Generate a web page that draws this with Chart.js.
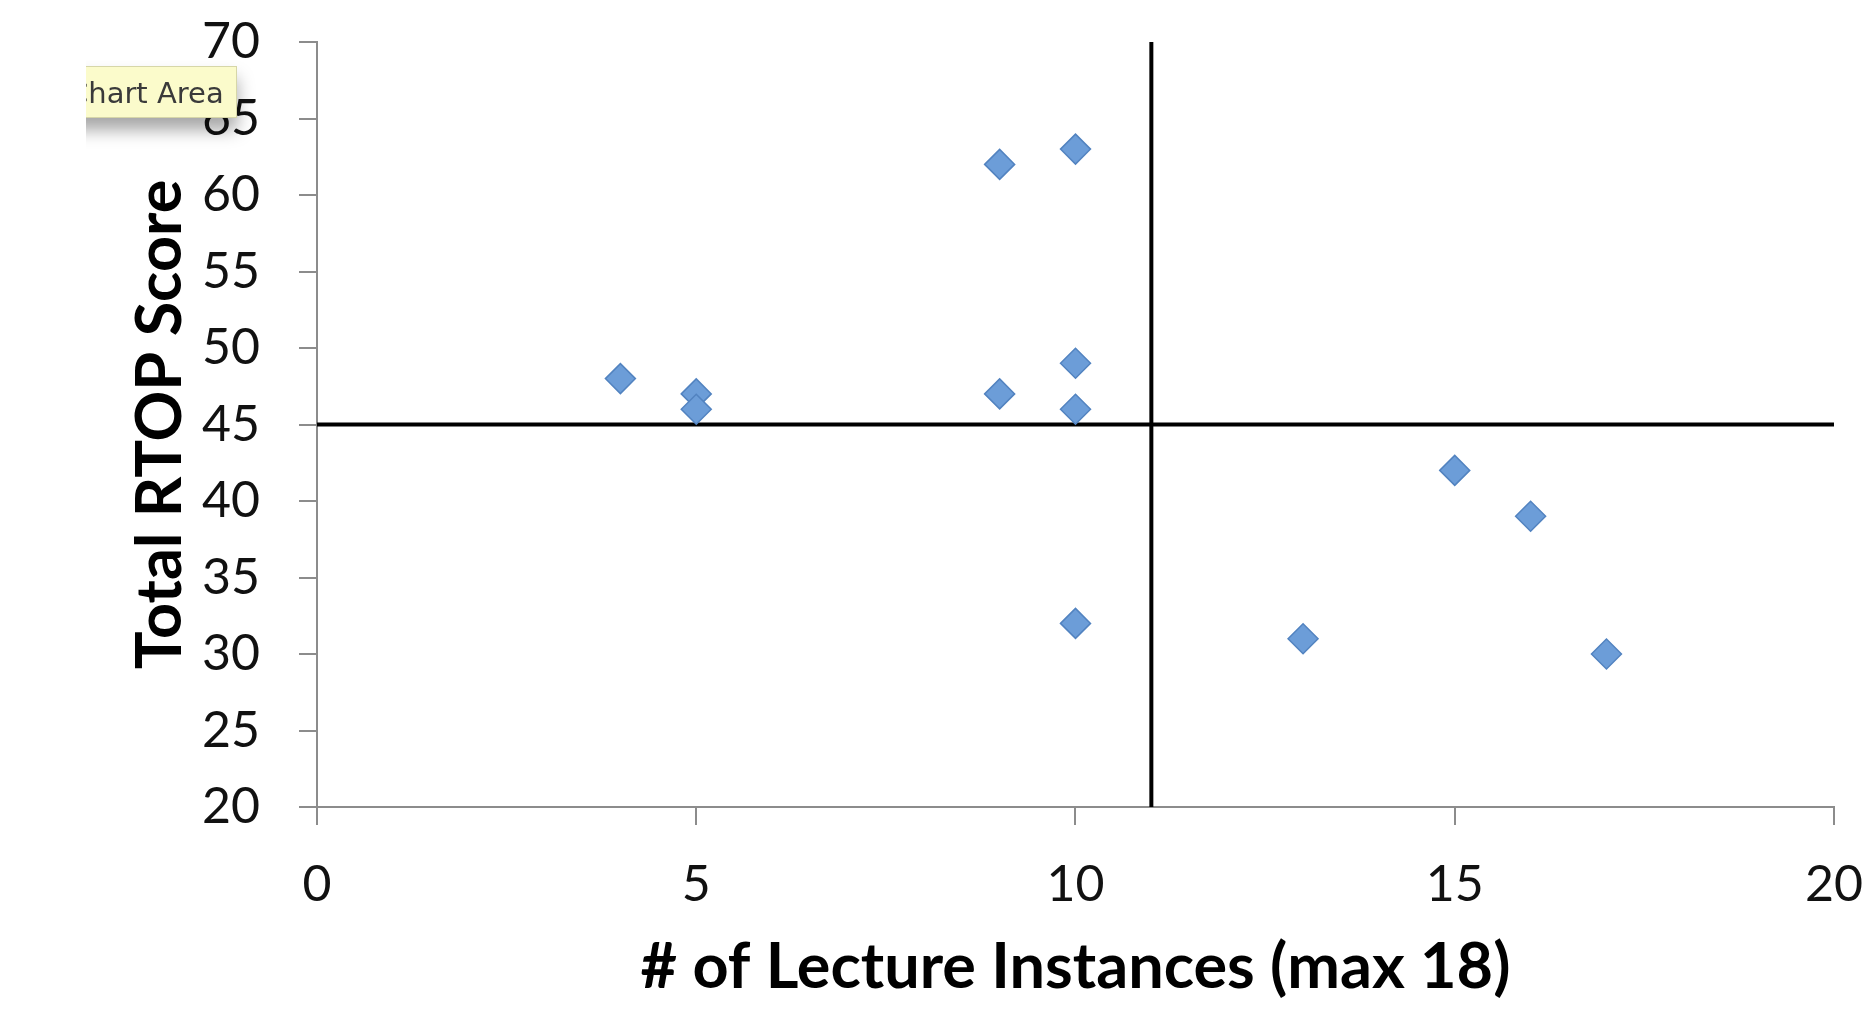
<!DOCTYPE html>
<html>
<head>
<meta charset="utf-8">
<script src="https://cdn.jsdelivr.net/npm/chart.js@4/dist/chart.umd.min.js"></script>
<style>
  html, body { margin: 0; padding: 0; background: #fff; overflow: hidden; }
  #wrap { position: relative; width: 1870px; height: 1011px; overflow: hidden; }
  /* canvas box is a bit bigger than the page so the plot area lands where it should */
  #chartBox { position: absolute; left: 0; top: -27px; width: 1893px; height: 1038px; }
  #tipClip { position: absolute; left: 86px; top: 60px; width: 200px; height: 110px; overflow: hidden; }
  #tip {
    position: absolute; left: -19px; top: 6px; width: 170px; height: 52px;
    background: #fbfbcb; border: 1px solid #d6d6a8; box-sizing: border-box;
    font-family: "DejaVu Sans", sans-serif; font-size: 29px; color: #3a3a3a;
    line-height: 52px; padding-left: 0;
    box-shadow: 0 12px 16px rgba(0,0,0,0.35);
  }
</style>
</head>
<body>
<div id="wrap">
  <div id="chartBox"><canvas id="chart"></canvas></div>
  <div id="tipClip"><div id="tip">Chart Area</div></div>
</div>
<script>
// lecture instances vs RTOP score
const lectureCounts = [4, 5, 5, 9, 9, 10, 10, 10, 10, 13, 15, 16, 17];
const rtopScores    = [48, 47, 46, 62, 47, 63, 49, 46, 32, 31, 42, 39, 30];

// quadrant divider lines
const vLineX = [11, 11];
const vLineY = [20, 70];
const hLineX = [0, 20];
const hLineY = [45, 45];

const xTicks = [0, 5, 10, 15, 20];
const yTicks = [20, 25, 30, 35, 40, 45, 50, 55, 60, 65, 70];

const toPts = (xs, ys) => xs.map((x, i) => ({ x, y: ys[i] }));

const axisColor = "#8c8c8c";
const tickFont  = { family: "Lato", size: 50 };
const titleFont = { family: "Lato", size: 63, weight: "bold" };

new Chart(document.getElementById("chart"), {
  type: "scatter",
  data: {
    datasets: [
      {
        label: "RTOP",
        data: toPts(lectureCounts, rtopScores),
        pointStyle: "rectRot",
        pointRadius: 15,
        backgroundColor: "#6c9dd8",
        borderColor: "#5283c0",
        borderWidth: 1.5
      },
      {
        type: "line",
        data: toPts(vLineX, vLineY),
        borderColor: "#000",
        borderWidth: 4,
        pointRadius: 0,
        fill: false
      },
      {
        type: "line",
        data: toPts(hLineX, hLineY),
        borderColor: "#000",
        borderWidth: 4,
        pointRadius: 0,
        fill: false
      }
    ]
  },
  options: {
    responsive: true,
    maintainAspectRatio: false,
    animation: false,
    layout: { padding: { top: 15, right: 14, left: 0, bottom: 0 } },
    plugins: { legend: { display: false }, tooltip: { enabled: false } },
    scales: {
      x: {
        type: "linear",
        min: xTicks[0], max: xTicks[xTicks.length - 1],
        afterBuildTicks: s => { s.ticks = xTicks.map(v => ({ value: v })); },
        afterFit: s => { s.height = 204; },
        grid: { drawOnChartArea: false, drawTicks: true, tickLength: 18, color: axisColor, lineWidth: 2 },
        border: { display: true, color: axisColor, width: 2 },
        ticks: { font: tickFont, color: "#111", padding: 30, maxRotation: 0 },
        title: {
          display: true, text: "# of Lecture Instances (max 18)",
          font: titleFont, color: "#000", padding: { top: 0, bottom: 6 }
        }
      },
      y: {
        type: "linear",
        min: yTicks[0], max: yTicks[yTicks.length - 1],
        afterBuildTicks: s => { s.ticks = yTicks.map(v => ({ value: v })); },
        afterFit: s => { s.width = 317; },
        grid: { drawOnChartArea: false, drawTicks: true, tickLength: 18, color: axisColor, lineWidth: 2 },
        border: { display: true, color: axisColor, width: 2 },
        ticks: { font: tickFont, color: "#111", padding: 39 },
        title: {
          display: true, text: "Total RTOP Score",
          font: titleFont, color: "#000", padding: { top: 123, bottom: 0 }
        }
      }
    }
  }
});
</script>
</body>
</html>
